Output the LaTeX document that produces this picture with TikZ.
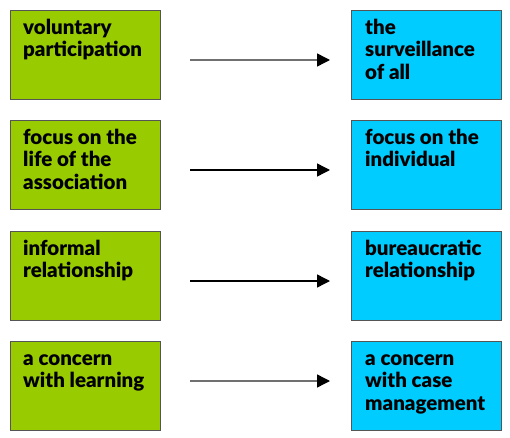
\documentclass[tikz,border=0pt]{standalone}
\usepackage{fontspec}
\setmainfont{Lato}[BoldFont={Lato Black}]
\usetikzlibrary{arrows.meta}
\definecolor{boxgreen}{HTML}{99CC00}
\definecolor{boxblue}{HTML}{00CCFF}
\definecolor{edgegray}{HTML}{555555}
\definecolor{arrgray}{HTML}{707070}
\newcommand{\boxtext}[1]{\parbox[t]{145bp}{\fontsize{20.5bp}{22.3bp}\selectfont\bfseries\raggedright #1}}
\begin{document}
\begin{tikzpicture}[x=1bp,y=-1bp,
  greenbox/.style={draw=edgegray, line width=1bp, fill=boxgreen, minimum width=150bp, minimum height=89bp, anchor=north west, inner sep=0pt},
  bluebox/.style={draw=edgegray, line width=1bp, fill=boxblue, minimum width=150bp, minimum height=89bp, anchor=north west, inner sep=0pt},
  boxlabel/.style={anchor=base west, inner sep=0pt, text=black},
  arr/.style={line width=1.4bp, -{Triangle[length=13bp,width=13bp,color=black]}},
]
\useasboundingbox (0,0) rectangle (510,438);
% row 1
\node[greenbox] (g1) at (10,10) {};
\node[bluebox] (b1) at (351,10) {};
\node[boxlabel] (tg1) at (23,34.5) {\boxtext{voluntary\\participation}};
\node[boxlabel] (tb1) at (365,34.5) {\boxtext{the\\surveillance\\of all}};
\coordinate (s1) at (190,60);
\coordinate (e1) at (330,60);
\draw[arr, draw=arrgray] (s1) -- (e1);
% row 2
\node[greenbox] (g2) at (10,120) {};
\node[bluebox] (b2) at (351,120) {};
\node[boxlabel] (tg2) at (23,144.5) {\boxtext{focus on the\\life of the\\association}};
\node[boxlabel] (tb2) at (365,144.5) {\boxtext{focus on the\\individual}};
\coordinate (s2) at (190,170);
\coordinate (e2) at (330,170);
\draw[arr, draw=black] (s2) -- (e2);
% row 3
\node[greenbox] (g3) at (10,231) {};
\node[bluebox] (b3) at (351,231) {};
\node[boxlabel] (tg3) at (23,255.5) {\boxtext{informal\\relationship}};
\node[boxlabel] (tb3) at (365,255.5) {\boxtext{bureaucratic\\relationship}};
\coordinate (s3) at (190,281);
\coordinate (e3) at (330,281);
\draw[arr, draw=black] (s3) -- (e3);
% row 4
\node[greenbox] (g4) at (10,341) {};
\node[bluebox] (b4) at (351,341) {};
\node[boxlabel] (tg4) at (23,365.5) {\boxtext{a concern\\with learning}};
\node[boxlabel] (tb4) at (365,365.5) {\boxtext{a concern\\with case\\management}};
\coordinate (s4) at (190,381);
\coordinate (e4) at (330,381);
\draw[arr, draw=arrgray] (s4) -- (e4);
\end{tikzpicture}
\end{document}
